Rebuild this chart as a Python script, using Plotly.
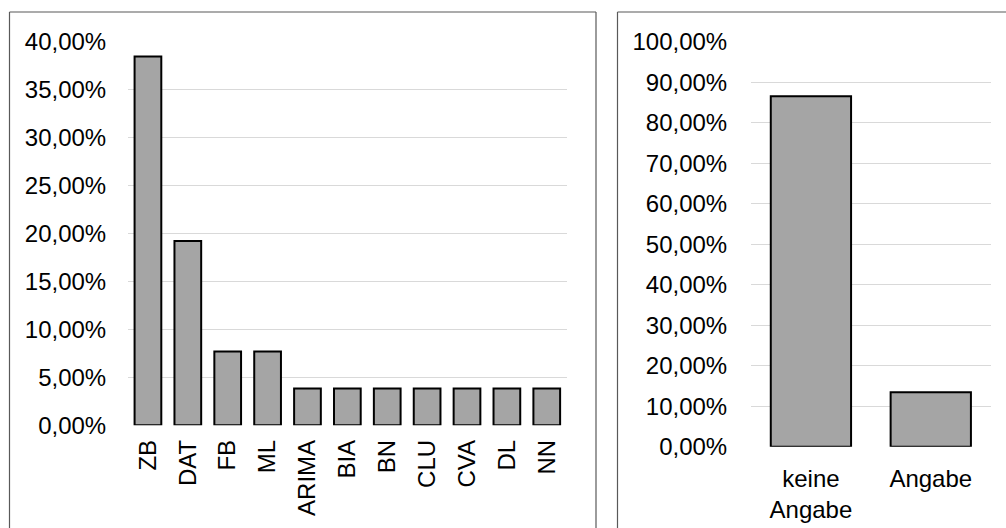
import plotly.graph_objects as go

# Share of methods mentioned
methods = ["ZB", "DAT", "FB", "ML", "ARIMA", "BIA", "BN", "CLU", "CVA", "DL", "NN"]
method_share = [0.3846, 0.1923, 0.0769, 0.0769, 0.0385, 0.0385, 0.0385, 0.0385, 0.0385, 0.0385, 0.0385]

# Share of entries with / without a statement
info_labels = ["keine<br>Angabe", "Angabe"]
info_share = [0.8654, 0.1346]

W, H = 1006, 528
BAR_FILL = "#a5a5a5"
GRID = "#d9d9d9"
FRAME = "#595959"
FONT = dict(family="Liberation Sans, Arial, sans-serif", size=24, color="#000000")

fig = go.Figure()

fig.add_trace(go.Bar(
    x=methods, y=method_share, xaxis="x", yaxis="y",
    marker=dict(color=BAR_FILL, line=dict(color="#000000", width=2)),
    width=0.67, hoverinfo="x+y",
))
fig.add_trace(go.Bar(
    x=info_labels, y=info_share, xaxis="x2", yaxis="y2",
    marker=dict(color=BAR_FILL, line=dict(color="#000000", width=2)),
    width=0.67, hoverinfo="x+y",
))

def px_x(v):
    return v / W

def px_y(v):
    return 1 - v / H

axis_common = dict(showline=False, zeroline=False, tickfont=FONT, automargin=False)

fig.update_layout(
    width=W, height=H,
    margin=dict(l=0, r=0, t=0, b=0),
    paper_bgcolor="white", plot_bgcolor="white",
    separators=",.",
    showlegend=False,
    font=FONT,
    xaxis=dict(domain=[px_x(128), px_x(566.7)], anchor="y", tickangle=-90,
               showgrid=False, ticks="outside", ticklen=4, tickcolor="rgba(0,0,0,0)",
               **axis_common),
    yaxis=dict(domain=[px_y(425.3), px_y(41.7)], anchor="x", range=[0, 0.40],
               dtick=0.05, tickformat=".2%", showgrid=True, gridcolor=GRID, gridwidth=1,
               ticks="outside", ticklen=16, tickcolor="rgba(0,0,0,0)",
               **axis_common),
    xaxis2=dict(domain=[px_x(751), px_x(990.7)], anchor="y2",
                showgrid=False, ticks="outside", ticklen=10, tickcolor="rgba(0,0,0,0)",
                **axis_common),
    yaxis2=dict(domain=[px_y(446.7), px_y(41.7)], anchor="x2", range=[0, 1.0],
                dtick=0.1, tickformat=".2%", showgrid=True, gridcolor=GRID, gridwidth=1,
                ticks="outside", ticklen=18, tickcolor="rgba(0,0,0,0)",
                **axis_common),
)

# Panel frames (top, left, right edges)
frames = [
    (9.5, 596.0, 12.0),
    (617.5, 1012.0, 12.0),
]
for x0, x1, yt in frames:
    fig.add_shape(type="line", xref="paper", yref="paper",
                  x0=px_x(x0), x1=px_x(x1), y0=px_y(yt), y1=px_y(yt),
                  line=dict(color=FRAME, width=1.2))
    fig.add_shape(type="line", xref="paper", yref="paper",
                  x0=px_x(x0), x1=px_x(x0), y0=px_y(yt), y1=px_y(540),
                  line=dict(color=FRAME, width=1.2))
    if x1 < W:
        fig.add_shape(type="line", xref="paper", yref="paper",
                      x0=px_x(x1), x1=px_x(x1), y0=px_y(yt), y1=px_y(540),
                      line=dict(color=FRAME, width=1.2))

fig.write_html("out.html")
